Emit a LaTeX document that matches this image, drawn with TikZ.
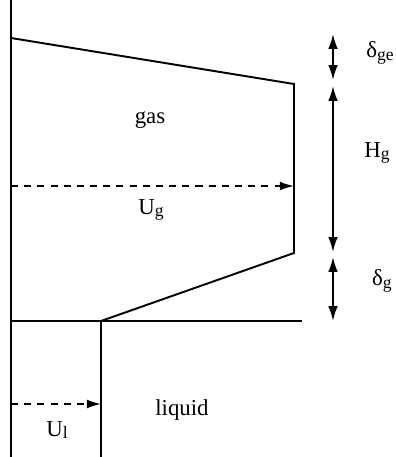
\documentclass[tikz,border=0pt]{standalone}
\usepackage{fontspec}
\setmainfont{Liberation Serif}
\usetikzlibrary{arrows.meta}
\newcommand{\lsub}[1]{\raisebox{-1.6pt}{\fontsize{10}{11}\selectfont #1}}

\begin{document}
\begin{tikzpicture}[
  x=0.02cm, y=-0.02cm,
  font=\fontsize{13}{15}\selectfont,
  wall/.style={line width=1.1pt},
  flow/.style={line width=1pt,dash pattern=on 4pt off 3.5pt,-{Latex[length=8pt,width=5pt]}},
  dim/.style={line width=1pt,{Latex[length=8.5pt,width=5.5pt]}-{Latex[length=8.5pt,width=5.5pt]}},
  lab/.style={inner sep=1pt},
  >=Latex
]
\useasboundingbox (0,0) rectangle (396,457);
% ---- Outline points ----
\coordinate (wtop) at (11,0);
\coordinate (wbot) at (11,457);
\coordinate (gtl)  at (11,38);
\coordinate (gtr)  at (294,84);
\coordinate (gbr)  at (294,253);
\coordinate (lip)  at (101,321);
\coordinate (ifl)  at (11,321);
\coordinate (ifr)  at (302,321);
\coordinate (lbot) at (101,457);
% ---- Walls and interface ----
\draw[wall] (wtop) -- (wbot);
\draw[wall] (gtl) -- (gtr) -- (gbr) -- (lip) -- (lbot);
\draw[wall] (ifl) -- (ifr);
% ---- Velocities ----
\coordinate (ugs) at (11,186);
\coordinate (ulS) at (11,404);
\draw[flow] (ugs) -- (ugs-|gbr);
\draw[flow] (ulS) -- (ulS-|lip);
% ---- Labels ----
\node[lab] (gas) at (150,120) {gas};
\node[lab] (ug)  at (151,210) {U\lsub{g}};
\node[lab] (liq) at (182,410) {liquid};
\node[lab] (ul)  at (57,430)  {U\lsub{l}};
% ---- Thickness markers ----
\coordinate (d0) at (333,34);
\coordinate (d1) at (333,80);
\coordinate (d2) at (333,86);
\coordinate (d3) at (333,252);
\coordinate (d4) at (333,257);
\coordinate (d5) at (333,321);
\draw[dim] (d0) -- (d1);
\draw[dim] (d2) -- (d3);
\draw[dim] (d4) -- (d5);
\node[lab] (dge) at (380,53)  {δ\lsub{ge}};
\node[lab] (hg)  at (377,153) {H\lsub{g}};
\node[lab] (dg)  at (382,281) {δ\lsub{g}};
\end{tikzpicture}
\end{document}
